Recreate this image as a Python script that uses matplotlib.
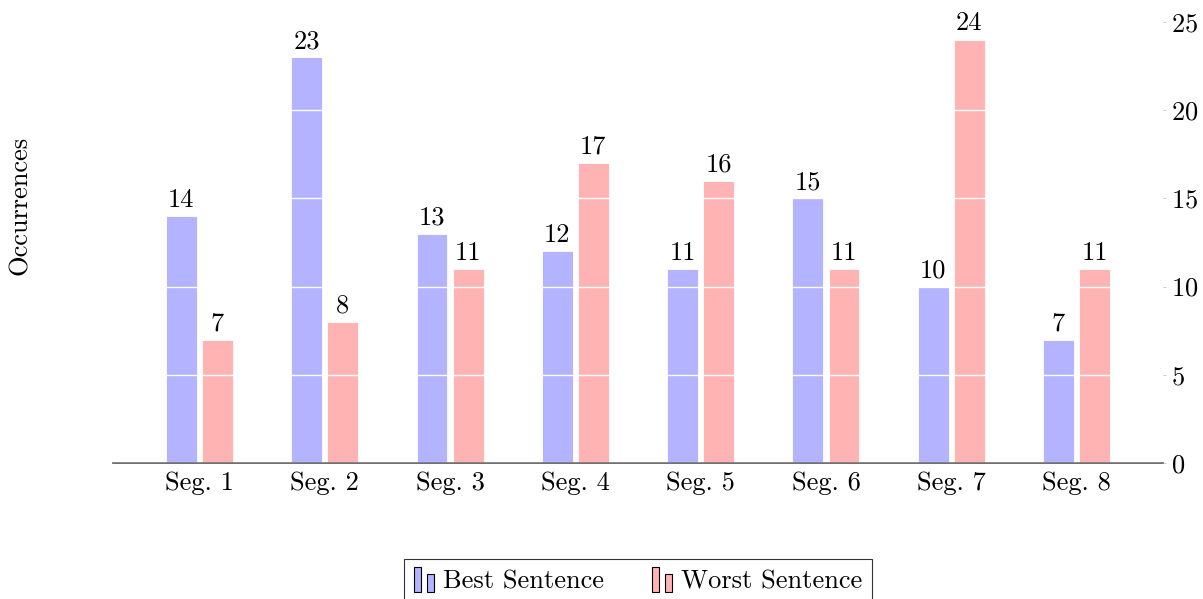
import numpy as np
import matplotlib.pyplot as plt
from matplotlib.legend_handler import HandlerBase
from matplotlib.patches import Rectangle

plt.rcParams['font.family'] = ['cmr10', 'DejaVu Serif']
plt.rcParams['mathtext.fontset'] = 'cm'
plt.rcParams['axes.formatter.use_mathtext'] = True

segments = ['Seg. 1', 'Seg. 2', 'Seg. 3', 'Seg. 4', 'Seg. 5', 'Seg. 6', 'Seg. 7', 'Seg. 8']
best = [14, 23, 13, 12, 11, 15, 10, 7]
worst = [7, 8, 11, 17, 16, 11, 24, 11]

blue = '#b3b3ff'
red = '#ffb3b3'
fs = 19


class TwoBarHandler(HandlerBase):
    # pgfplots-style ybar legend image: two little bars
    def create_artists(self, legend, orig_handle, xdescent, ydescent,
                       width, height, fontsize, trans):
        c = orig_handle.patches[0].get_facecolor()
        w = width * 0.3
        r1 = Rectangle((-xdescent, -ydescent - height * 0.2), w, height * 1.35,
                       facecolor=c, edgecolor='black', lw=0.8, transform=trans)
        r2 = Rectangle((-xdescent + width * 0.55, -ydescent - height * 0.2), w, height * 1.0,
                       facecolor=c, edgecolor='black', lw=0.8, transform=trans)
        return [r1, r2]


fig = plt.figure(figsize=(12.03, 5.99), dpi=100)
ax = fig.add_axes([113 / 1203, 136 / 599, 1050 / 1203, 441 / 599])

x = np.arange(len(segments))
w = 0.247
off = 0.144
b1 = ax.bar(x - off, best, w, color=blue, edgecolor='white', lw=0.6, label='Best Sentence', zorder=1)
b2 = ax.bar(x + off, worst, w, color=red, edgecolor='white', lw=0.6, label='Worst Sentence', zorder=1)
ax.bar_label(b1, padding=3, fontsize=fs)
ax.bar_label(b2, padding=3, fontsize=fs)

ax.set_xlim(-0.69, 7.69)
ax.set_ylim(0, 25)
ax.set_xticks(x, segments, fontsize=fs)
ax.set_yticks(np.arange(0, 26, 5))
ax.yaxis.tick_right()
ax.tick_params(axis='y', labelsize=fs, length=2, width=0.4, color='#aaaaaa', pad=4)
ax.tick_params(axis='x', length=0, pad=6)
ax.grid(axis='y', color='white', lw=1.0, zorder=2)
ax.set_axisbelow(False)
for s in ['top', 'left', 'right']:
    ax.spines[s].set_visible(False)
ax.spines['bottom'].set_color('#555555')
ax.spines['bottom'].set_linewidth(1.2)

fig.text(20 / 1203, 1 - 205 / 599, 'Occurrences', rotation=90, fontsize=fs,
         ha='center', va='center')

handler = TwoBarHandler()
leg = ax.legend(handles=[b1, b2], loc='upper center', bbox_to_anchor=(0.5, -0.218),
                ncol=2, frameon=True, fancybox=False, edgecolor='black', fontsize=fs,
                handler_map={b1: handler, b2: handler},
                handlelength=0.9, handletextpad=0.2, columnspacing=1.8, borderpad=0.4,
                borderaxespad=0)
leg.get_frame().set_linewidth(0.8)

plt.savefig('out.png', dpi=100)
